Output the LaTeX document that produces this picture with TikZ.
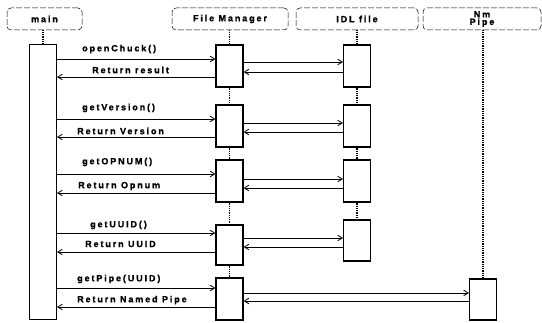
\documentclass[tikz,border=0pt]{standalone}
\usepackage{fontspec}
\newfontfamily\labfont[LetterSpace=21,FakeBold=1.2]{Liberation Sans Bold}
\usetikzlibrary{arrows.meta}
\begin{document}
\begin{tikzpicture}[x=1pt,y=-1pt,
  head/.style={draw, dashed, dash pattern=on 6pt off 2pt, rounded corners=4pt, line width=0.5pt, inner sep=0, font=\labfont\fontsize{9}{9}\selectfont, align=center},
  act/.style={draw, line width=1.1pt, fill=white, minimum width=27pt, inner sep=0},
  life/.style={line width=1.3pt, dash pattern=on 1pt off 0.8pt},
  msg/.style={line width=0.8pt, -{Straight Barb[length=4.5pt,width=5.5pt,line width=0.8pt]}},
  lab/.style={anchor=west, inner sep=0, font=\labfont\fontsize{9}{9}\selectfont}]
\useasboundingbox (0,0) rectangle (542,323);
% headers
\node[head, minimum width=75pt, minimum height=22pt] (hmain) at (44.5,19) {main};
\node[head, minimum width=116pt, minimum height=22pt] (hfm) at (230,19) {File Manager};
\node[head, minimum width=122pt, minimum height=22pt] (hidl) at (357,19) {IDL file};
\node[head, minimum width=118pt, minimum height=22pt] (hnm) at (482,19) {Nm\\[-1.5pt]Pipe};
% activations
\node[act, minimum height=275pt] (m) at (43,182) {};
\node[act, minimum height=42pt] (f1) at (229.5,66) {};
\node[act, minimum height=42pt] (f2) at (229.5,126) {};
\node[act, minimum height=42pt] (f3) at (229.5,181) {};
\node[act, minimum height=40pt] (f4) at (229.5,245) {};
\node[act, minimum height=42pt] (f5) at (229.5,299) {};
\node[act, minimum height=42pt] (i1) at (357,66) {};
\node[act, minimum height=42pt] (i2) at (357,126) {};
\node[act, minimum height=42pt] (i3) at (357,181) {};
\node[act, minimum height=41pt] (i4) at (357,240.5) {};
\node[act, minimum height=41pt] (p1) at (483,299.5) {};
% lifelines
\draw[life] (hmain.south -| m.north) -- (m.north);
\draw[life] (hfm.south -| f1.north) -- (f1.north);
\draw[life] (f1.south) -- (f2.north);
\draw[life] (f2.south) -- (f3.north);
\draw[life] (f3.south) -- (f4.north);
\draw[life] (f4.south) -- (f5.north);
\draw[life] (hidl.south -| i1.north) -- (i1.north);
\draw[life] (i1.south) -- (i2.north);
\draw[life] (i2.south) -- (i3.north);
\draw[life] (i3.south) -- (i4.north);
\draw[life] (hnm.south -| p1.north) -- (p1.north);
% rows
\coordinate (r1) at (0,59);  \coordinate (r2) at (0,77);
\coordinate (s1) at (0,62);  \coordinate (s2) at (0,72);
\coordinate (r3) at (0,119); \coordinate (r4) at (0,137);
\coordinate (s3) at (0,123); \coordinate (s4) at (0,132);
\coordinate (r5) at (0,174); \coordinate (r6) at (0,193);
\coordinate (s5) at (0,179); \coordinate (s6) at (0,188);
\coordinate (r7) at (0,233); \coordinate (r8) at (0,252);
\coordinate (s7) at (0,238); \coordinate (s8) at (0,247);
\coordinate (r9) at (0,288); \coordinate (r10) at (0,307);
\coordinate (s9) at (0,293); \coordinate (s10) at (0,301);
% messages main <-> file manager
\draw[msg] (m.east |- r1) -- (f1.west |- r1);
\draw[msg] (f1.west |- r2) -- (m.east |- r2);
\draw[msg] (m.east |- r3) -- (f2.west |- r3);
\draw[msg] (f2.west |- r4) -- (m.east |- r4);
\draw[msg] (m.east |- r5) -- (f3.west |- r5);
\draw[msg] (f3.west |- r6) -- (m.east |- r6);
\draw[msg] (m.east |- r7) -- (f4.west |- r7);
\draw[msg] (f4.west |- r8) -- (m.east |- r8);
\draw[msg] (m.east |- r9) -- (f5.west |- r9);
\draw[msg] (f5.west |- r10) -- (m.east |- r10);
% file manager <-> IDL / pipe
\draw[msg] (f1.east |- s1) -- (i1.west |- s1);
\draw[msg] (i1.west |- s2) -- (f1.east |- s2);
\draw[msg] (f2.east |- s3) -- (i2.west |- s3);
\draw[msg] (i2.west |- s4) -- (f2.east |- s4);
\draw[msg] (f3.east |- s5) -- (i3.west |- s5);
\draw[msg] (i3.west |- s6) -- (f3.east |- s6);
\draw[msg] (f4.east |- s7) -- (i4.west |- s7);
\draw[msg] (i4.west |- s8) -- (f4.east |- s8);
\draw[msg] (f5.east |- s9) -- (p1.west |- s9);
\draw[msg] (p1.west |- s10) -- (f5.east |- s10);
% labels
\node[lab] (l1) at (82,49) {openChuck()};
\node[lab] (l2) at (92,70) {Return result};
\node[lab] (l3) at (82,108) {getVersion()};
\node[lab] (l4) at (77,131) {Return Version};
\node[lab] (l5) at (82,162) {getOPNUM()};
\node[lab] (l6) at (78,186) {Return Opnum};
\node[lab] (l7) at (90,225) {getUUID()};
\node[lab] (l8) at (85,244) {Return UUID};
\node[lab] (l9) at (77,279) {getPipe(UUID)};
\node[lab] (l10) at (77,300) {Return Named Pipe};
\end{tikzpicture}
\end{document}
